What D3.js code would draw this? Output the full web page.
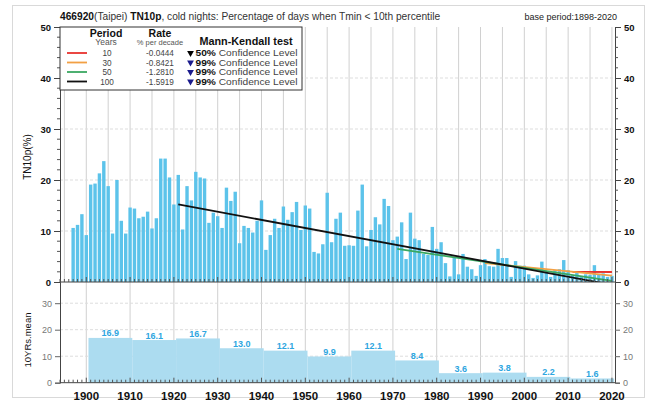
<!DOCTYPE html>
<html>
<head>
<meta charset="utf-8">
<script src="https://cdn.jsdelivr.net/npm/d3@7"></script>
<style>
  html, body { margin: 0; padding: 0; background: #fff; }
  svg { display: block; font-family: "Liberation Sans", Arial, sans-serif; }
</style>
</head>
<body>
<svg id="chart" width="652" height="403"></svg>
<script>
// Annual TN10p (% of days with Tmin below the 10th percentile), Taipei 466920
const firstYear = 1897;
const tn10p = [
  10.6, 11.2, 13.3, 9.2,
  19.1, 19.3, 21.3, 23.7, 18.8, 9.5, 20.0, 12.0, 9.5, 14.6,
  14.4, 12.5, 12.8, 13.8, 10.5, 12.5, 24.2, 24.2, 20.5, 15.2,
  21.0, 10.3, 18.8, 16.0, 21.6, 20.5, 20.3, 11.6, 13.6, 12.9,
  10.6, 18.5, 15.9, 17.7, 7.6, 11.0, 10.6, 9.7, 12.0, 16.0,
  6.3, 9.2, 12.4, 10.6, 14.8, 12.2, 13.7, 15.7, 10.2, 15.0,
  14.4, 5.9, 5.6, 7.4, 17.5, 7.8, 12.4, 13.6, 7.1, 7.2,
  7.1, 14.0, 19.1, 7.0, 10.2, 12.7, 11.3, 16.3, 14.9, 8.2,
  8.9, 11.7, 4.5, 13.6, 8.5, 8.2, 5.5, 5.3, 10.8, 6.5,
  7.8, 3.7, 1.1, 4.8, 1.5, 5.5, 3.0, 2.5, 1.2, 3.3,
  4.5, 3.1, 3.0, 6.5, 4.7, 4.7, 1.0, 4.1, 3.2, 3.2,
  1.5, 0.8, 1.3, 4.0, 2.0, 1.0, 2.3, 2.5, 4.3, 2.3,
  1.3, 1.8, 1.2, 1.5, 1.4, 3.3, 1.6, 1.7, 1.0, 1.2
];

// Ten-year means (decade start year, mean)
const decadeStarts = [1901, 1911, 1921, 1931, 1941, 1951, 1961, 1971, 1981, 1991, 2001, 2011];
const decadeMeans  = [16.9, 16.1, 16.7, 13.0, 12.1, 9.9, 12.1, 8.4, 3.6, 3.8, 2.2, 1.6];

// Linear trends over the last N years (rate in % per decade)
const trendPeriods = [10, 30, 50, 100];
const trendRates   = ["-0.0444", "-0.8421", "-1.2810", "-1.5919"];
const trendStartValues = [2.0, 3.7, 6.5, 15.2];
const trendColors  = ["#e8332e", "#f2a044", "#3aa861", "#111111"];
const mkLevels     = ["50%", "99%", "99%", "99%"];
const mkColors     = ["#000000", "#1a1a8c", "#1a1a8c", "#1a1a8c"];

const mainTicks = [0, 10, 20, 30, 40, 50];
const meanTicks = [0, 10, 20, 30];
const yearTicks = d3.range(1900, 2021, 10);

const lastYear = 2020;
const years = tn10p.map((_, i) => firstYear + i);

const svg = d3.select("#chart");
const L = 60, R = 615, T = 27, B = 282, B2 = 382.7;

const x = d3.scaleLinear().domain([1894, 2020.7]).range([L, R]);
const y = d3.scaleLinear().domain([0, 50]).range([B, T]);
const y2 = d3.scaleLinear().domain([0, 38]).range([B2, B]);

// outer frame
svg.append("rect").attr("x", 12.5).attr("y", 5.5).attr("width", 632).attr("height", 392)
  .attr("fill", "none").attr("stroke", "#d9d9d9");

const clipId = "plotclip";
svg.append("clipPath").attr("id", clipId).append("rect")
  .attr("x", L).attr("y", T).attr("width", R - L).attr("height", B - T);

// ---------- main panel grid ----------
const grid = svg.append("g");
grid.selectAll("line.v").data(d3.range(1895, 2021, 5)).join("line")
  .attr("x1", d => x(d)).attr("x2", d => x(d)).attr("y1", T).attr("y2", B)
  .attr("stroke", "#d0d0d0").attr("stroke-width", 1);
grid.selectAll("line.h").data([10, 20, 30, 40]).join("line")
  .attr("x1", L).attr("x2", R).attr("y1", d => y(d)).attr("y2", d => y(d))
  .attr("stroke", "#dddddd").attr("stroke-dasharray", "3,2");

// bars
const barW = 3.4;
svg.append("g").selectAll("rect").data(tn10p).join("rect")
  .attr("x", (d, i) => x(years[i]) - barW / 2)
  .attr("width", barW)
  .attr("y", d => y(d))
  .attr("height", d => y(0) - y(d))
  .attr("fill", "#5cc3ea");

// trend lines
const trends = svg.append("g").attr("clip-path", `url(#${clipId})`);
trendPeriods.forEach((p, k) => {
  const y0 = lastYear - p + 1;
  const rate = +trendRates[k] / 10;
  const pts = [[y0, trendStartValues[k]], [lastYear, trendStartValues[k] + rate * (lastYear - y0)]];
  trends.append("path")
    .attr("d", d3.line().x(d => x(d[0])).y(d => y(d[1]))(pts))
    .attr("stroke", trendColors[k]).attr("stroke-width", 1.8).attr("fill", "none");
});

// axes of main panel
const axL = svg.append("g").attr("transform", `translate(${L},0)`)
  .call(d3.axisLeft(y).tickValues(mainTicks).tickSize(6).tickPadding(3));
const axR = svg.append("g").attr("transform", `translate(${R},0)`)
  .call(d3.axisRight(y).tickValues(mainTicks).tickSize(6).tickPadding(3));
[axL, axR].forEach(a => {
  a.select(".domain").attr("stroke", "#444");
  a.selectAll(".tick line").attr("stroke", "#444");
  a.selectAll("text").attr("font-size", 9.5).attr("font-weight", "bold").attr("fill", "#111")
    .attr("font-family", "Liberation Sans, Arial, sans-serif");
});
// minor ticks every 2 units
const minorMain = d3.range(0, 51, 2).filter(v => v % 10 !== 0);
svg.append("g").selectAll("line").data(minorMain).join("line")
  .attr("x1", L - 3).attr("x2", L).attr("y1", d => y(d)).attr("y2", d => y(d)).attr("stroke", "#555");
svg.append("g").selectAll("line").data(minorMain).join("line")
  .attr("x1", R).attr("x2", R + 3).attr("y1", d => y(d)).attr("y2", d => y(d)).attr("stroke", "#555");

// ---------- lower panel: ten-year means ----------
svg.append("g").selectAll("line").data(yearTicks).join("line")
  .attr("x1", d => x(d)).attr("x2", d => x(d)).attr("y1", B).attr("y2", B2)
  .attr("stroke", "#d0d0d0");
svg.append("g").selectAll("line").data([10, 20, 30]).join("line")
  .attr("x1", L).attr("x2", R).attr("y1", d => y2(d)).attr("y2", d => y2(d))
  .attr("stroke", "#dddddd").attr("stroke-dasharray", "3,2");

svg.append("g").selectAll("rect").data(decadeMeans).join("rect")
  .attr("x", (d, i) => x(decadeStarts[i] - 0.5))
  .attr("width", (d, i) => x(decadeStarts[i] + 9.5) - x(decadeStarts[i] - 0.5))
  .attr("y", d => y2(d))
  .attr("height", d => y2(0) - y2(d))
  .attr("fill", "#acdcf0");

svg.append("g").selectAll("text").data(decadeMeans).join("text")
  .attr("x", (d, i) => x(decadeStarts[i] + 4.5))
  .attr("y", d => y2(d) - 1.5)
  .attr("text-anchor", "middle")
  .attr("font-size", 9).attr("font-weight", "bold").attr("fill", "#2ea6df")
  .text(d => d.toFixed(1));

const axL2 = svg.append("g").attr("transform", `translate(${L},0)`)
  .call(d3.axisLeft(y2).tickValues(meanTicks).tickSize(5).tickPadding(3));
const axR2 = svg.append("g").attr("transform", `translate(${R},0)`)
  .call(d3.axisRight(y2).tickValues(meanTicks).tickSize(5).tickPadding(3));
[axL2, axR2].forEach(a => {
  a.select(".domain").attr("stroke", "#444");
  a.selectAll(".tick line").attr("stroke", "#666");
  a.selectAll("text").attr("font-size", 9).attr("fill", "#777")
    .attr("font-family", "Liberation Sans, Arial, sans-serif");
});

// x axes: baseline of each panel with yearly minor ticks
[B, B2].forEach(base => {
  svg.append("line").attr("x1", L).attr("x2", R).attr("y1", base).attr("y2", base).attr("stroke", "#444");
  svg.append("g").selectAll("line").data(d3.range(1894, 2021)).join("line")
    .attr("x1", d => x(d)).attr("x2", d => x(d))
    .attr("y1", base).attr("y2", d => base - (d % 10 === 0 ? 5 : 3))
    .attr("stroke", "#555");
});
svg.append("g").selectAll("text").data(yearTicks).join("text")
  .attr("x", d => x(d)).attr("y", 400)
  .attr("text-anchor", "middle").attr("font-size", 11.5).attr("font-weight", "bold").attr("fill", "#111")
  .text(d => d);

// axis titles
svg.append("text").attr("transform", "translate(31,157) rotate(-90)")
  .attr("text-anchor", "middle").attr("font-size", 10).attr("fill", "#111").text("TN10p(%)");
svg.append("text").attr("transform", "translate(31,340) rotate(-90)")
  .attr("text-anchor", "middle").attr("font-size", 9.5).attr("fill", "#111").text("10YRs.mean");

// title
const title = svg.append("text").attr("x", 60).attr("y", 20).attr("font-size", 10.2).attr("fill", "#111");
title.append("tspan").attr("font-weight", "bold").text("466920");
title.append("tspan").attr("fill", "#333").text("(Taipei) ");
title.append("tspan").attr("font-weight", "bold").text("TN10p");
title.append("tspan").attr("fill", "#333").text(", cold nights: Percentage of days when Tmin < 10th percentile");
svg.append("text").attr("x", 617).attr("y", 20).attr("text-anchor", "end")
  .attr("font-size", 9).attr("fill", "#222").text("base period:1898-2020");

// ---------- legend ----------
const lg = svg.append("g");
lg.append("rect").attr("x", L).attr("y", T).attr("width", 242).attr("height", 63)
  .attr("fill", "#fff").attr("stroke", "#333");
lg.append("text").attr("x", 106).attr("y", 36.5).attr("text-anchor", "middle")
  .attr("font-size", 10.5).attr("font-weight", "bold").attr("fill", "#111").text("Period");
lg.append("text").attr("x", 106).attr("y", 45).attr("text-anchor", "middle")
  .attr("font-size", 8.5).attr("fill", "#555").text("Years");
lg.append("text").attr("x", 160).attr("y", 36.5).attr("text-anchor", "middle")
  .attr("font-size", 10.5).attr("font-weight", "bold").attr("fill", "#111").text("Rate");
lg.append("text").attr("x", 160).attr("y", 45).attr("text-anchor", "middle")
  .attr("font-size", 7.5).attr("fill", "#555").text("% per decade");
lg.append("text").attr("x", 246).attr("y", 44.5).attr("text-anchor", "middle")
  .attr("font-size", 10.8).attr("font-weight", "bold").attr("fill", "#111").text("Mann-Kendall test");

const rowGap = 9.5;
trendPeriods.forEach((p, k) => {
  const ry = 53 + k * rowGap;
  lg.append("line").attr("x1", 67).attr("x2", 87).attr("y1", ry).attr("y2", ry)
    .attr("stroke", trendColors[k]).attr("stroke-width", 1.8);
  lg.append("text").attr("x", 107).attr("y", ry + 3).attr("text-anchor", "middle")
    .attr("font-size", 8.2).attr("fill", "#444").text(p);
  lg.append("text").attr("x", 160).attr("y", ry + 3).attr("text-anchor", "middle")
    .attr("font-size", 8.2).attr("fill", "#444").text(trendRates[k]);
  lg.append("path")
    .attr("d", d3.symbol().type(d3.symbolTriangle).size(20)())
    .attr("transform", `translate(190.5,${ry}) rotate(180)`)
    .attr("fill", mkColors[k]);
  const t = lg.append("text").attr("x", 195.5).attr("y", ry + 3).attr("font-size", 8.2).attr("fill", "#444")
    .attr("textLength", 102).attr("lengthAdjust", "spacingAndGlyphs");
  t.append("tspan").attr("font-weight", "bold").attr("fill", "#111").text(mkLevels[k]);
  t.append("tspan").text(" Confidence Level");
});
</script>
</body>
</html>
